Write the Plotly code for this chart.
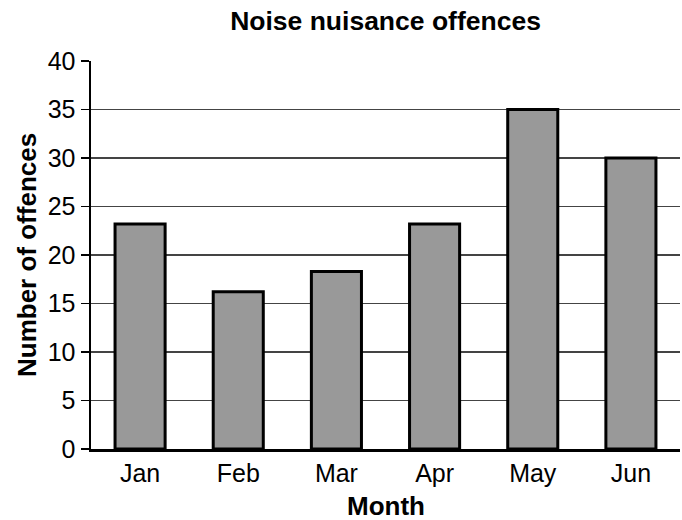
import plotly.graph_objects as go

months = ["Jan", "Feb", "Mar", "Apr", "May", "Jun"]
offences = [23.2, 16.2, 18.3, 23.2, 35, 30]
y_ticks = [0, 5, 10, 15, 20, 25, 30, 35, 40]

FONT = "Liberation Sans, Arial, sans-serif"
W, H = 682, 520
L, R, T, B = 91, 2, 61, 71
PW, PH = W - L - R, H - T - B

fig = go.Figure(
    go.Bar(
        x=months,
        y=offences,
        width=0.51,
        marker=dict(color="#999999", line=dict(color="black", width=3)),
    )
)

fig.update_layout(
    width=W,
    height=H,
    margin=dict(l=L, r=R, t=T, b=B, autoexpand=False),
    paper_bgcolor="white",
    plot_bgcolor="white",
    showlegend=False,
    font=dict(family=FONT, color="black", size=25),
    title=dict(
        text="<b>Noise nuisance offences</b>",
        x=(L + W - R) / 2 / W,
        xanchor="center",
        y=1 - 21 / H,
        yanchor="middle",
        font=dict(family=FONT, size=26.5, color="black"),
    ),
    annotations=[
        dict(
            text="<b>Month</b>",
            xref="paper", yref="paper",
            x=0.5, y=-(506 - (H - B)) / PH,
            xanchor="center", yanchor="middle",
            showarrow=False,
            font=dict(family=FONT, size=26, color="black"),
        ),
        dict(
            text="<b>Number of offences</b>",
            xref="paper", yref="paper",
            x=-(L - 27) / PW, y=0.5,
            xanchor="center", yanchor="middle",
            textangle=-90,
            showarrow=False,
            font=dict(family=FONT, size=26, color="black"),
        ),
    ],
)

fig.update_xaxes(
    range=[-0.5, 5.5],
    automargin=False,
    showline=True,
    linecolor="black",
    linewidth=2.5,
    showgrid=False,
    ticks="",
    tickfont=dict(size=25),
)

fig.update_yaxes(
    range=[0, 40],
    automargin=False,
    tickvals=y_ticks,
    showline=True,
    linecolor="black",
    linewidth=2.5,
    showgrid=True,
    gridcolor="#444444",
    gridwidth=1.5,
    ticks="outside",
    ticklen=8,
    tickwidth=1.5,
    tickcolor="black",
    tickfont=dict(size=25),
    zeroline=False,
)

# remove the page's default 8px body margin so the figure fills the window
fig.write_html(
    "out.html",
    config={"displayModeBar": False, "staticPlot": True},
    post_script="document.body.style.margin='0';document.body.style.overflow='hidden';",
)
